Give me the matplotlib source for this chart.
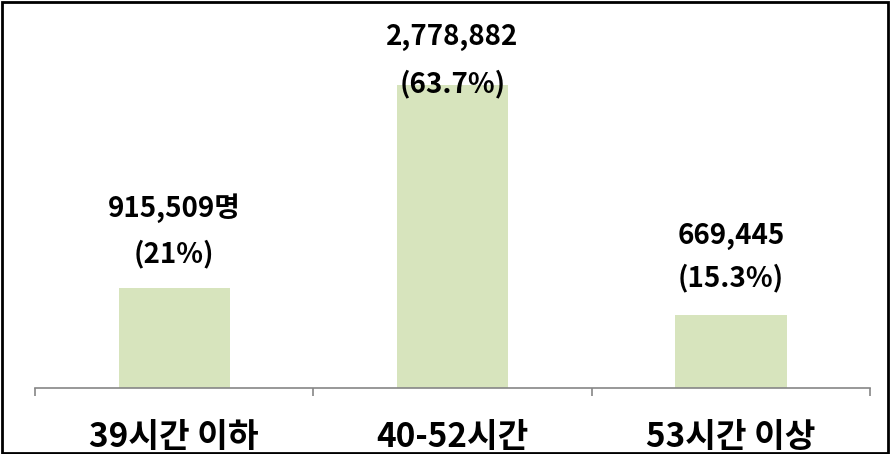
import matplotlib.pyplot as plt
from matplotlib.patches import Rectangle

plt.rcParams['font.family'] = ['Noto Sans CJK KR', 'DejaVu Sans']

# data
categories = ["39시간 이하", "40-52시간", "53시간 이상"]
workers = [915509, 2778882, 669445]
value_labels = ["915,509명", "2,778,882", "669,445"]
share_labels = ["(21%)", "(63.7%)", "(15.3%)"]

BAR_COLOR = "#D7E4BD"
AXIS_COLOR = "#868686"

# label offsets above the bar top (pixels): first line, second line
label_offsets = [(80, 34), (48, 1), (79, 37)]

fig = plt.figure(figsize=(8.91, 4.54), dpi=100)
ax = fig.add_axes([35 / 891, (454 - 388) / 454, (870 - 35) / 891, (388 - 61) / 454])

x = list(range(len(categories)))
ax.bar(x, workers, width=0.4, color=BAR_COLOR, zorder=2)

for xi, v, l1, l2, (o1, o2) in zip(x, workers, value_labels, share_labels, label_offsets):
    ax.annotate(l1, (xi, v), xytext=(0, o1 * 0.72), textcoords="offset points",
                ha="center", va="center", fontsize=20, fontweight="bold")
    ax.annotate(l2, (xi, v), xytext=(0, o2 * 0.72), textcoords="offset points",
                ha="center", va="center", fontsize=20, fontweight="bold")

ax.set_xlim(-0.5, 2.5)
ax.set_ylim(0, 3000000)

for side in ["top", "right", "left"]:
    ax.spines[side].set_visible(False)
ax.spines["bottom"].set_color(AXIS_COLOR)
ax.spines["bottom"].set_linewidth(1.2)
ax.set_yticks([])

ax.set_xticks([-0.5, 0.5, 1.5, 2.5])
ax.set_xticklabels([])
ax.tick_params(axis="x", which="major", length=6, width=1.2, color=AXIS_COLOR)
ax.set_xticks(x, minor=True)
ax.set_xticklabels(categories, minor=True, fontsize=24, fontweight="bold")
ax.tick_params(axis="x", which="minor", length=0, pad=24)

# outer border
fig.add_artist(Rectangle((0.002, 0.003), 0.995, 0.993, transform=fig.transFigure,
                         fill=False, edgecolor="black", linewidth=2))

fig.savefig("out.png", dpi=100)
